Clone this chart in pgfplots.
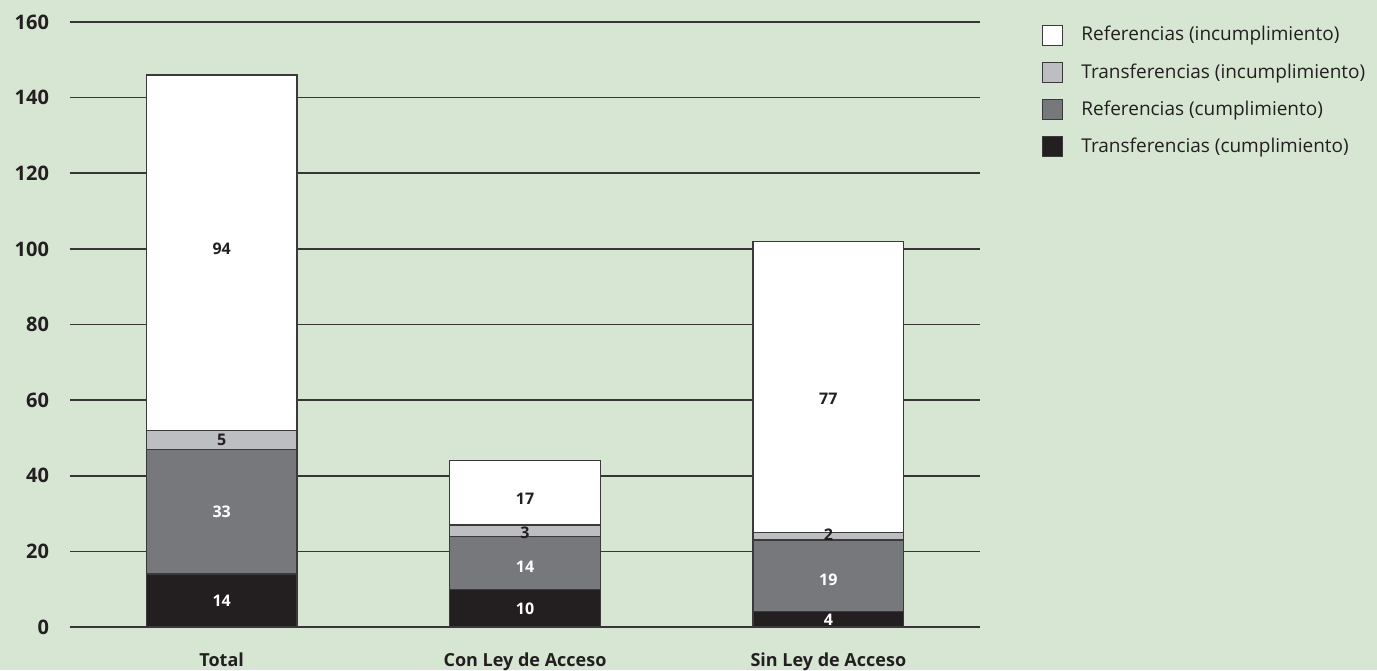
\documentclass[border=0pt]{standalone}
\usepackage{fontspec}
\setmainfont{Open Sans}
\usepackage{pgfplots}
\pgfplotsset{compat=1.18}
\definecolor{bg}{HTML}{D7E6D2}
\definecolor{cblack}{HTML}{231F20}
\definecolor{cmid}{HTML}{77787B}
\definecolor{clight}{HTML}{BDBEC1}
\definecolor{edge}{HTML}{3A3A3A}
\pgfplotsset{
  sq legend/.style={legend image code/.code={\draw[##1,draw=edge,line width=0.6pt] (0pt,-5pt) rectangle (10pt,5pt); \path (17pt,0pt);}},
}
\begin{document}
\begin{tikzpicture}
\fill[bg] (-35pt,-21.5pt) rectangle (653.5pt,313.5pt);
\begin{axis}[
  scale only axis, width=455pt, height=302.5pt,
  ybar stacked, bar width=0.497,
  xmin=-0.5, xmax=2.5, ymin=0, ymax=160,
  xtick={0,1,2}, xticklabels={Total, Con Ley de Acceso, Sin Ley de Acceso},
  ytick={0,20,...,160},
  ymajorgrids, grid style={line width=0.75pt, color=cblack!90},
  axis line style={draw=none}, major tick length=0pt,
  /pgf/number format/assume math mode=true,
  yticklabel style={font=\bfseries\fontsize{10}{12}\selectfont, text=cblack, xshift=-7pt},
  xticklabel style={font=\bfseries\fontsize{9}{11}\selectfont, text=cblack, yshift=-9.5pt},
  reverse legend,
  legend style={at={(1.068,1.0)}, anchor=north west, draw=none, fill=none, inner sep=0pt,
    font=\fontsize{9.5}{11}\selectfont, text=cblack, row sep=5.8pt, cells={anchor=west}},
]
\addplot[fill=cblack, draw=edge, line width=0.6pt, sq legend] coordinates {(0,14) (1,10) (2,4)};
\addplot[fill=cmid, draw=edge, line width=0.6pt, sq legend] coordinates {(0,33) (1,14) (2,19)};
\addplot[fill=clight, draw=edge, line width=0.6pt, sq legend] coordinates {(0,5) (1,3) (2,2)};
\addplot[fill=white, draw=edge, line width=0.6pt, sq legend] coordinates {(0,94) (1,17) (2,77)};
\legend{Transferencias (cumplimiento), Referencias (cumplimiento), Transferencias (incumplimiento), Referencias (incumplimiento)}
\end{axis}
\begin{axis}[
  scale only axis, width=455pt, height=302.5pt,
  xmin=-0.5, xmax=2.5, ymin=0, ymax=160, hide axis,
]
\addplot[draw=none, mark=none, nodes near coords, point meta=explicit symbolic,
  nodes near coords align={center},
  every node near coord/.append style={anchor=center, text=white, font=\bfseries\fontsize{8}{9}\selectfont}]
  coordinates {(0,6.9)[14] (0,30.5)[33] (1,4.8)[10] (1,16)[14] (2,1.9)[4] (2,12.5)[19]};
\addplot[draw=none, mark=none, nodes near coords, point meta=explicit symbolic,
  nodes near coords align={center},
  every node near coord/.append style={anchor=center, text=cblack, font=\bfseries\fontsize{8}{9}\selectfont}]
  coordinates {(0,49.5)[5] (0,100)[94] (1,24.8)[3] (1,34)[17] (2,24.3)[2] (2,60.3)[77]};
\end{axis}
\pgfresetboundingbox
\path[use as bounding box] (-35pt,-21.5pt) rectangle (653.5pt,313.5pt);
\end{tikzpicture}
\end{document}
